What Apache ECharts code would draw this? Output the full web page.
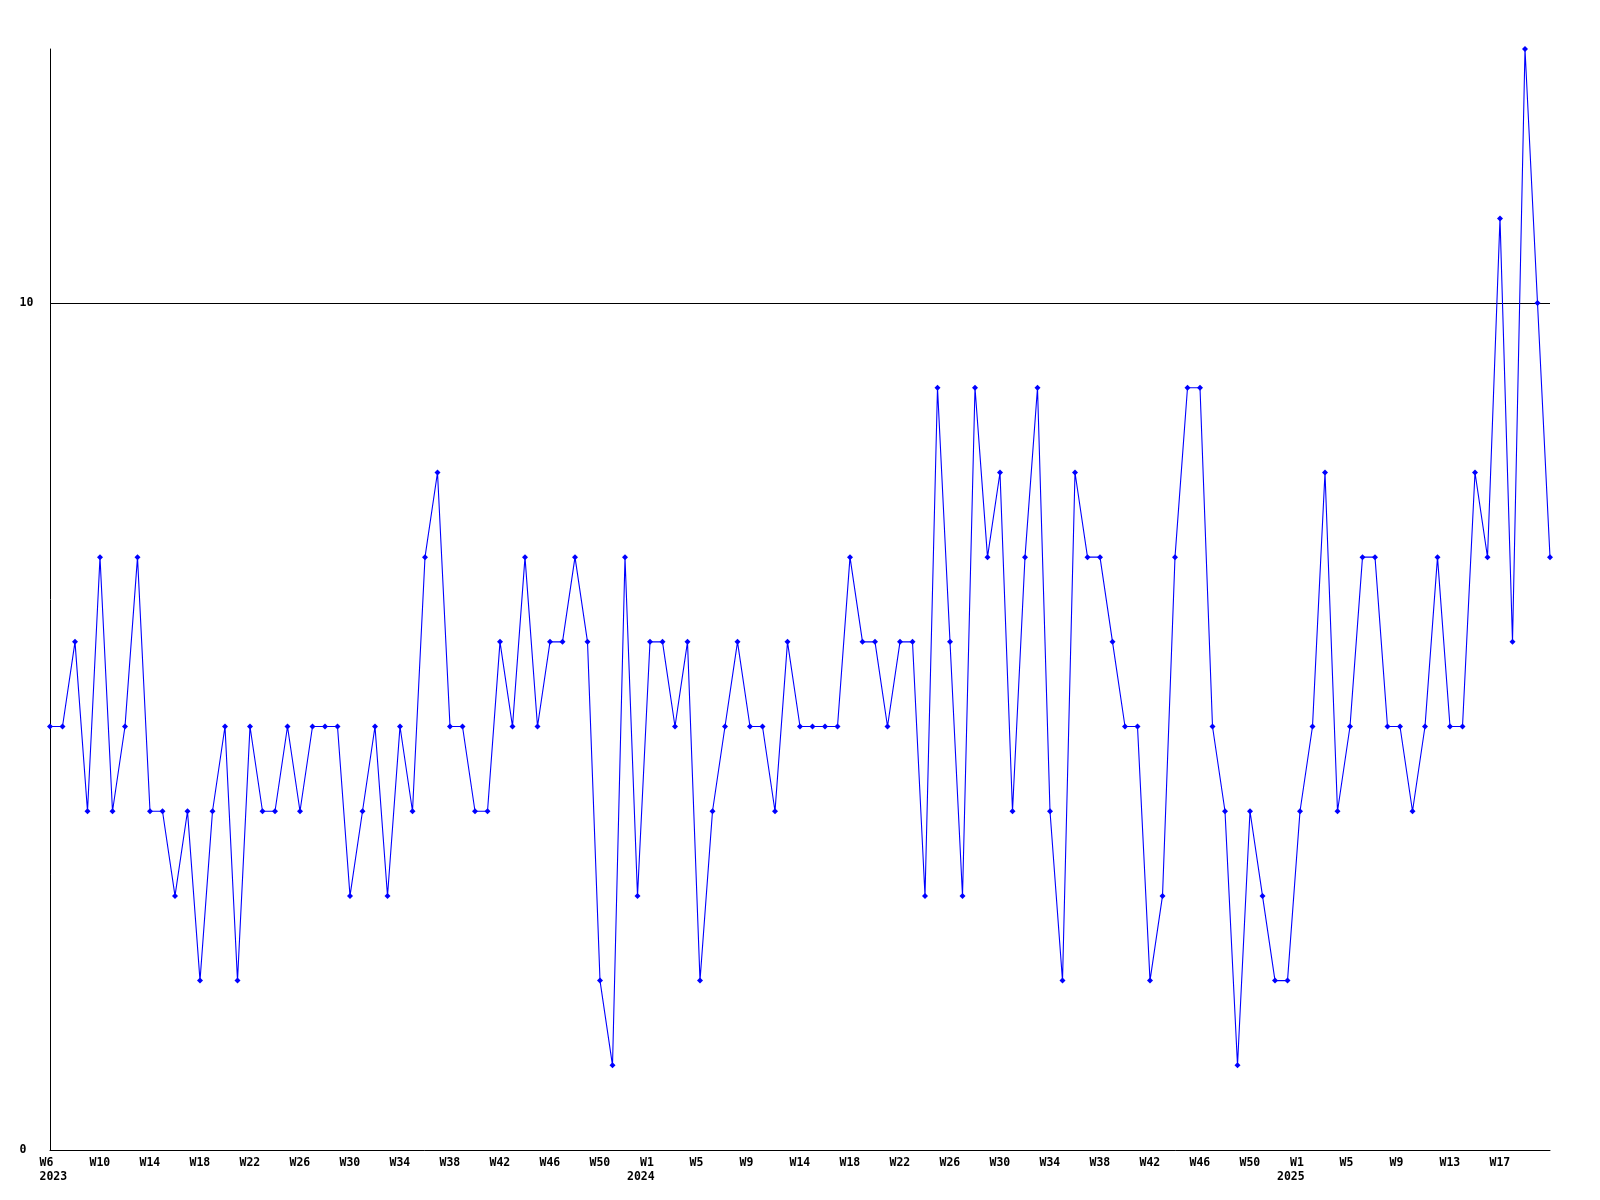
<!DOCTYPE html>
<html>
<head>
<meta charset="utf-8">
<script src="https://cdn.jsdelivr.net/npm/echarts@6/dist/echarts.min.js"></script>
<style>
html,body{margin:0;padding:0;background:#fff;}
#chart{width:1600px;height:1200px;}
</style>
</head>
<body>
<div id="chart"></div>
<script>
// Weekly values, one per point (121 points, 2023 W6 .. 2025)
const values = [
  5,5,6,4,7,4,5,7,4,4,3,4,2,4,5,2,5,4,4,5,
  4,5,5,5,3,4,5,3,5,4,7,8,5,5,4,4,6,5,7,5,
  6,6,7,6,2,1,7,3,6,6,5,6,2,4,5,6,5,5,4,6,
  5,5,5,5,7,6,6,5,6,6,3,9,6,3,9,7,8,4,7,9,
  4,2,8,7,7,6,5,5,2,3,7,9,9,5,4,1,4,3,2,2,
  4,5,8,4,5,7,7,5,5,4,5,7,5,5,8,7,11,6,13,10,
  7
];
// Tick labels, one every 4 points
const tickLabels = ['W6','W10','W14','W18','W22','W26','W30','W34','W38','W42','W46','W50',
  'W1','W5','W9','W14','W18','W22','W26','W30','W34','W38','W42','W46','W50',
  'W1','W5','W9','W13','W17'];
// Year labels and the tick-label index they sit under
const years = ['2023','2024','2025'];
const yearTickIndex = [0, 12, 25];
const yTickLabels = ['0','10'];

const categories = values.map((v, i) => String(i));
const FONT = 'DejaVu Sans Mono';
const base = {fontFamily: FONT, fontSize: 11.5, fontWeight: 'bold', color: '#000', lineHeight: 14.5};

const chart = echarts.init(document.getElementById('chart'), null, {renderer: 'canvas'});
chart.setOption({
  animation: false,
  backgroundColor: '#fff',
  grid: {left: 50, right: 50, top: 49, bottom: 50, containLabel: false},
  xAxis: {
    type: 'category',
    data: categories,
    boundaryGap: false,
    axisLine: {show: true, lineStyle: {color: '#000', width: 1}},
    axisTick: {show: false},
    splitLine: {show: false},
    axisLabel: {
      interval: 3,
      margin: 5.5,
      showMaxLabel: true,
      formatter: function (value, index) {
        if (index % 4 !== 0) return '';
        const k = index / 4;
        if (k >= tickLabels.length) return '';
        const yi = yearTickIndex.indexOf(k);
        if (yi === 0) return '{w|' + tickLabels[k] + '}\n{y0|' + years[yi] + '}';
        if (yi > 0) return '{wp|' + tickLabels[k] + '}\n{y|' + years[yi] + '}';
        return '{w|' + tickLabels[k] + '}';
      },
      rich: {
        w: Object.assign({}, base, {width: 21, align: 'left'}),
        wp: Object.assign({}, base, {width: 21, align: 'left', padding: [0, 0, 0, 13]}),
        y0: Object.assign({}, base, {width: 21, align: 'left'}),
        y: Object.assign({}, base, {width: 46, align: 'left'})
      }
    }
  },
  yAxis: {
    type: 'value',
    min: 0,
    max: 13,
    interval: 10,
    axisLine: {show: true, lineStyle: {color: '#000', width: 1}},
    axisTick: {show: false},
    splitLine: {show: true, showMinLine: false, showMaxLine: false, lineStyle: {color: '#000', width: 1}},
    axisLabel: {
      showMaxLabel: false,
      align: 'left',
      margin: 30.5,
      fontFamily: FONT, fontSize: 11.5, fontWeight: 'bold', color: '#000',
      formatter: function (v) {
        const i = v / 10;
        return Number.isInteger(i) && i < yTickLabels.length ? yTickLabels[i] : '';
      }
    }
  },
  series: [{
    type: 'line',
    data: values,
    symbol: 'diamond',
    symbolSize: 6,
    showAllSymbol: true,
    lineStyle: {color: '#0000ff', width: 1.1},
    itemStyle: {color: '#0000ff'},
    emphasis: {disabled: true}
  }]
});
</script>
</body>
</html>
